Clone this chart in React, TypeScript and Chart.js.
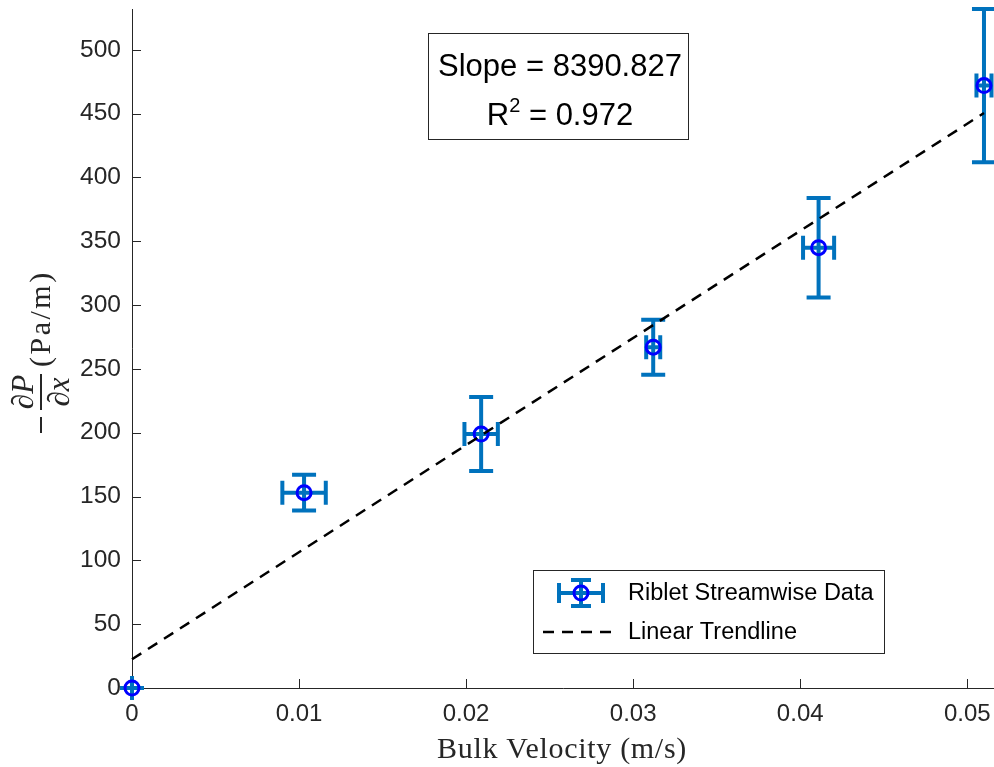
import React, { useEffect, useRef } from "react";
import { Chart, registerables } from "chart.js";

Chart.register(...registerables);

// ---- data ----
const velocity = [0, 0.0103, 0.0209, 0.0312, 0.0411, 0.051];
const pressureGrad = [0, 153, 199, 267, 345, 472];
const velocityErr = [0, 0.0013, 0.001, 0.00042, 0.00093, 0.00045];
const pressureErr = [0, 14, 29, 21.5, 39, 60];
const trendX = [0, 0.051];
const trendY = [22.5, 450.5];
const xTicks = [0, 0.01, 0.02, 0.03, 0.04, 0.05];
const xTickLabels = ["0", "0.01", "0.02", "0.03", "0.04", "0.05"];
const yTicks = [0, 50, 100, 150, 200, 250, 300, 350, 400, 450, 500];
const xMin = 0;
const xMax = 0.0516;
const yMin = 0;
const yMax = 532;
const slopeText = "Slope = 8390.827";
const r2Text = "0.972";
const seriesLabel = "Riblet Streamwise Data";
const trendLabel = "Linear Trendline";
const xTitle = "Bulk Velocity (m/s)";

const AXIS = "#262626";
const ERR = "#0072BD";
const MARK = "#0000FF";
const SANS = "'Liberation Sans', Arial, sans-serif";
const SERIF = "'Liberation Serif', 'Times New Roman', serif";

function drawErrSymbol(ctx: CanvasRenderingContext2D, cx: number, cy: number, ex: number, ey: number, cap: number) {
  ctx.strokeStyle = ERR;
  ctx.lineWidth = 4;
  ctx.lineCap = "butt";
  ctx.beginPath();
  ctx.moveTo(cx, cy - ey);
  ctx.lineTo(cx, cy + ey);
  ctx.moveTo(cx - cap, cy - ey);
  ctx.lineTo(cx + cap, cy - ey);
  ctx.moveTo(cx - cap, cy + ey);
  ctx.lineTo(cx + cap, cy + ey);
  ctx.moveTo(cx - ex, cy);
  ctx.lineTo(cx + ex, cy);
  ctx.moveTo(cx - ex, cy - cap);
  ctx.lineTo(cx - ex, cy + cap);
  ctx.moveTo(cx + ex, cy - cap);
  ctx.lineTo(cx + ex, cy + cap);
  ctx.stroke();
}

const decorPlugin = {
  id: "decor",
  beforeDatasetsDraw(chart: any) {
    const ctx: CanvasRenderingContext2D = chart.ctx;
    const xs = chart.scales.x;
    const ys = chart.scales.y;
    const a = chart.chartArea;
    ctx.save();
    ctx.strokeStyle = AXIS;
    ctx.lineWidth = 1;
    ctx.beginPath();
    ctx.moveTo(Math.round(a.left) + 0.5, a.top);
    ctx.lineTo(Math.round(a.left) + 0.5, Math.round(a.bottom) + 0.5);
    ctx.lineTo(a.right, Math.round(a.bottom) + 0.5);
    ctx.stroke();
    ctx.beginPath();
    for (const v of yTicks) {
      const py = Math.round(ys.getPixelForValue(v)) + 0.5;
      ctx.moveTo(a.left, py);
      ctx.lineTo(a.left + 9, py);
    }
    for (const v of xTicks) {
      const px = Math.round(xs.getPixelForValue(v)) + 0.5;
      ctx.moveTo(px, a.bottom);
      ctx.lineTo(px, a.bottom - 9);
    }
    ctx.stroke();
    for (let i = 0; i < velocity.length; i++) {
      const cx = xs.getPixelForValue(velocity[i]);
      const cy = ys.getPixelForValue(pressureGrad[i]);
      const ex = xs.getPixelForValue(velocity[i] + velocityErr[i]) - cx;
      const ey = cy - ys.getPixelForValue(pressureGrad[i] + pressureErr[i]);
      drawErrSymbol(ctx, cx, cy, ex, ey, 12);
    }
    ctx.restore();
  },
  afterDraw(chart: any) {
    const ctx: CanvasRenderingContext2D = chart.ctx;
    ctx.save();
    // x title
    ctx.fillStyle = AXIS;
    ctx.font = `30px ${SERIF}`;
    (ctx as any).letterSpacing = "0.7px";
    ctx.textAlign = "center";
    ctx.textBaseline = "alphabetic";
    ctx.fillText(xTitle, 562, 758);
    (ctx as any).letterSpacing = "0px";

    // y title
    ctx.save();
    ctx.translate(41, 434);
    ctx.rotate(-Math.PI / 2);
    ctx.strokeStyle = AXIS;
    ctx.fillStyle = AXIS;
    ctx.lineWidth = 2;
    ctx.beginPath();
    ctx.moveTo(1, 0);
    ctx.lineTo(17, 0);
    ctx.moveTo(24, 0);
    ctx.lineTo(60, 0);
    ctx.stroke();
    ctx.font = `italic 31px ${SERIF}`;
    ctx.textAlign = "center";
    ctx.fillText("\u2202P", 42, -8);
    ctx.fillText("\u2202x", 42, 28);
    ctx.textAlign = "left";
    ctx.font = `30px ${SERIF}`;
    (ctx as any).letterSpacing = "2.5px";
    ctx.fillText("(Pa/m)", 67, 9);
    (ctx as any).letterSpacing = "0px";
    ctx.restore();

    // slope text box
    ctx.fillStyle = "#ffffff";
    ctx.fillRect(428.5, 33.5, 260, 106);
    ctx.strokeStyle = AXIS;
    ctx.lineWidth = 1;
    ctx.strokeRect(428.5, 33.5, 260, 106);
    ctx.fillStyle = "#000000";
    ctx.textAlign = "center";
    ctx.font = `31px ${SANS}`;
    ctx.fillText(slopeText, 560, 76);
    const rest = " = " + r2Text;
    const wR = ctx.measureText("R").width;
    const wRest = ctx.measureText(rest).width;
    ctx.font = `20px ${SANS}`;
    const w2 = ctx.measureText("2").width;
    const total = wR + w2 + wRest;
    let sx = 560 - total / 2;
    ctx.textAlign = "left";
    ctx.font = `31px ${SANS}`;
    ctx.fillText("R", sx, 125);
    sx += wR;
    ctx.font = `20px ${SANS}`;
    ctx.fillText("2", sx, 112);
    sx += w2;
    ctx.font = `31px ${SANS}`;
    ctx.fillText(rest, sx, 125);

    // legend
    ctx.fillStyle = "#ffffff";
    ctx.fillRect(533.5, 570.5, 351, 83);
    ctx.strokeStyle = AXIS;
    ctx.lineWidth = 1;
    ctx.strokeRect(533.5, 570.5, 351, 83);
    drawErrSymbol(ctx, 581, 593, 22, 13, 10);
    ctx.strokeStyle = MARK;
    ctx.lineWidth = 3;
    ctx.beginPath();
    ctx.arc(581, 593, 7, 0, Math.PI * 2);
    ctx.stroke();
    ctx.strokeStyle = "#000000";
    ctx.lineWidth = 2.5;
    ctx.setLineDash([11, 8]);
    ctx.beginPath();
    ctx.moveTo(543, 632);
    ctx.lineTo(617, 632);
    ctx.stroke();
    ctx.setLineDash([]);
    ctx.fillStyle = "#000000";
    ctx.font = `23.5px ${SANS}`;
    ctx.textAlign = "left";
    ctx.textBaseline = "middle";
    ctx.fillText(seriesLabel, 628, 594);
    ctx.fillText(trendLabel, 628, 633);
    ctx.restore();
  },
};

export default function App() {
  const ref = useRef<HTMLCanvasElement | null>(null);
  useEffect(() => {
    if (!ref.current) return;
    const chart = new Chart(ref.current, {
      type: "scatter",
      data: {
        datasets: [
          {
            type: "line",
            label: trendLabel,
            data: trendX.map((x, i) => ({ x, y: trendY[i] })),
            borderColor: "#000000",
            borderWidth: 2.5,
            borderDash: [11, 8],
            pointRadius: 0,
            fill: false,
            clip: false as any,
          } as any,
          {
            type: "scatter",
            label: seriesLabel,
            data: velocity.map((x, i) => ({ x, y: pressureGrad[i] })),
            pointRadius: 7,
            pointBorderWidth: 3,
            borderColor: MARK,
            backgroundColor: "rgba(0,0,0,0)",
            pointHoverRadius: 7,
            clip: false as any,
          } as any,
        ],
      },
      options: {
        responsive: false,
        animation: false,
        devicePixelRatio: 1,
        layout: { autoPadding: false, padding: { left: 0, right: 0, top: 9, bottom: 0 } },
        plugins: { legend: { display: false }, tooltip: { enabled: false } },
        events: [],
        scales: {
          x: {
            type: "linear",
            min: xMin,
            max: xMax,
            grid: { display: false, drawTicks: false },
            border: { display: false },
            ticks: {
              font: { family: SANS, size: 24 },
              color: AXIS,
              padding: 12,
              maxRotation: 0,
              callback: (v: any) => {
                const idx = xTicks.findIndex((t) => Math.abs(t - v) < 1e-9);
                return idx >= 0 ? xTickLabels[idx] : "";
              },
            },
            afterBuildTicks: (s: any) => {
              s.ticks = xTicks.map((value) => ({ value }));
            },
            afterFit: (s: any) => {
              s.height = 79;
              s.paddingLeft = 0;
              s.paddingRight = 0;
              s.paddingTop = 0;
              s.paddingBottom = 0;
            },
          },
          y: {
            type: "linear",
            min: yMin,
            max: yMax,
            grid: { display: false, drawTicks: false },
            border: { display: false },
            ticks: {
              font: { family: SANS, size: 24.5 },
              color: AXIS,
              padding: 11,
            },
            afterBuildTicks: (s: any) => {
              s.ticks = yTicks.map((value) => ({ value }));
            },
            afterFit: (s: any) => {
              s.width = 132;
              s.paddingLeft = 0;
              s.paddingRight = 0;
              s.paddingTop = 0;
              s.paddingBottom = 0;
            },
          },
        },
      },
      plugins: [decorPlugin],
    } as any);
    return () => chart.destroy();
  }, []);
  return (
    <div style={{ position: "absolute", left: 0, top: 0, width: 994, height: 767, background: "#fff" }}>
      <canvas ref={ref} width={994} height={767} style={{ width: 994, height: 767, display: "block" }} />
    </div>
  );
}
